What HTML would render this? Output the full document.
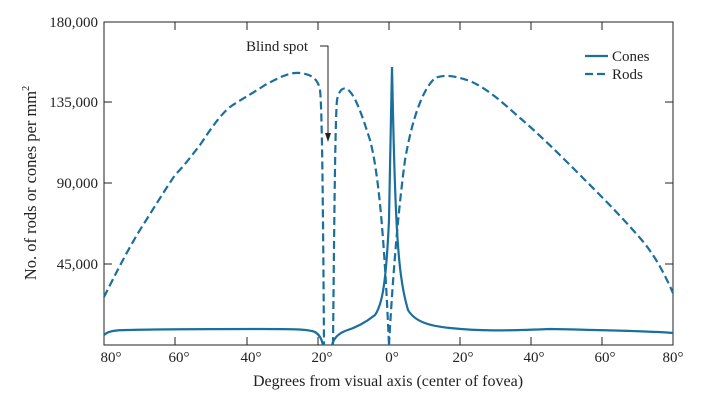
<!DOCTYPE html>
<html><head><style>body{margin:0;background:#fff}svg{display:block}text{font-family:"Liberation Serif",serif;fill:#222}</style></head><body>
<svg width="709" height="400" viewBox="0 0 709 400">
<g stroke="#222" stroke-width="1" fill="none">
<rect x="104" y="22" width="569" height="323"/>
<path d="M175,22v8M247,22v8M318,22v8M389,22v8M460,22v8M531,22v8M602,22v8M175,345v-8M247,345v-8M318,345v-8M389,345v-8M460,345v-8M531,345v-8M602,345v-8M104,102h8M104,183h8M104,264h8M673,102h-8M673,183h-8M673,264h-8"/>
<path d="M320,46h8v92"/>
</g>
<path d="M325,133l3,9l3,-9z" fill="#222"/>
<g fill="none" stroke="#1a6f9c" stroke-width="2.2">
<path stroke-dasharray="8,4" d="M104,297 C115,275 130,245 145,222 C155,206 165,190 175,175 C185,165 192,155 200,145 C210,130 220,115 230,107 C240,100 250,95 265,85 C280,77 290,72 300,73 C310,74 318,78 320,90 C322,105 323,200 324,345"/>
<path stroke-dasharray="8,4" d="M333,345 C334,250 335,120 337,100 C339,90 343,87 347,89 C355,94 362,115 370,140 C378,170 384,230 389,345"/>
<path stroke-dasharray="8,4" d="M389,345 C392,290 397,220 405,160 C412,120 422,90 435,78 C445,74 455,76 470,81 C490,90 505,105 520,118 C540,135 560,155 580,175 C600,195 620,215 640,238 C655,255 665,275 673,293"/>
<path d="M104,335 C108,331 115,330 130,330 C160,329 200,329 260,329 C290,329 308,329 315,332 C320,335 322,340 323,345"/>
<path d="M332,345 C334,338 338,334 345,331 C355,328 365,323 375,315 C382,305 386,285 389,220 C390,170 391,110 392,67 C393,110 394,180 397,230 C399,265 402,290 408,310 C415,322 430,326 450,328 C480,331 500,331 550,329 C600,330 650,331 673,333"/>
<path d="M585,56h23"/>
<path d="M585,74h23" stroke-dasharray="8,4"/>
</g>
<g font-size="15">
<text x="612" y="61">Cones</text>
<text x="612" y="79">Rods</text>
<text x="246" y="51">Blind spot</text>
<g text-anchor="end"><text x="98" y="27">180,000</text><text x="98" y="107">135,000</text><text x="98" y="188">90,000</text><text x="98" y="269">45,000</text></g>
<g text-anchor="middle"><text x="111" y="362">80°</text><text x="179" y="362">60°</text><text x="251" y="362">40°</text><text x="322" y="362">20°</text><text x="392" y="362">0°</text><text x="463" y="362">20°</text><text x="534" y="362">40°</text><text x="605" y="362">60°</text><text x="673" y="362">80°</text></g>
<text x="388" y="386" text-anchor="middle" font-size="16">Degrees from visual axis (center of fovea)</text>
<text transform="translate(36,183) rotate(-90)" text-anchor="middle" font-size="16.5">No. of rods or cones per mm<tspan font-size="10" dy="-7">2</tspan></text>
</g>
</svg>
</body></html>
